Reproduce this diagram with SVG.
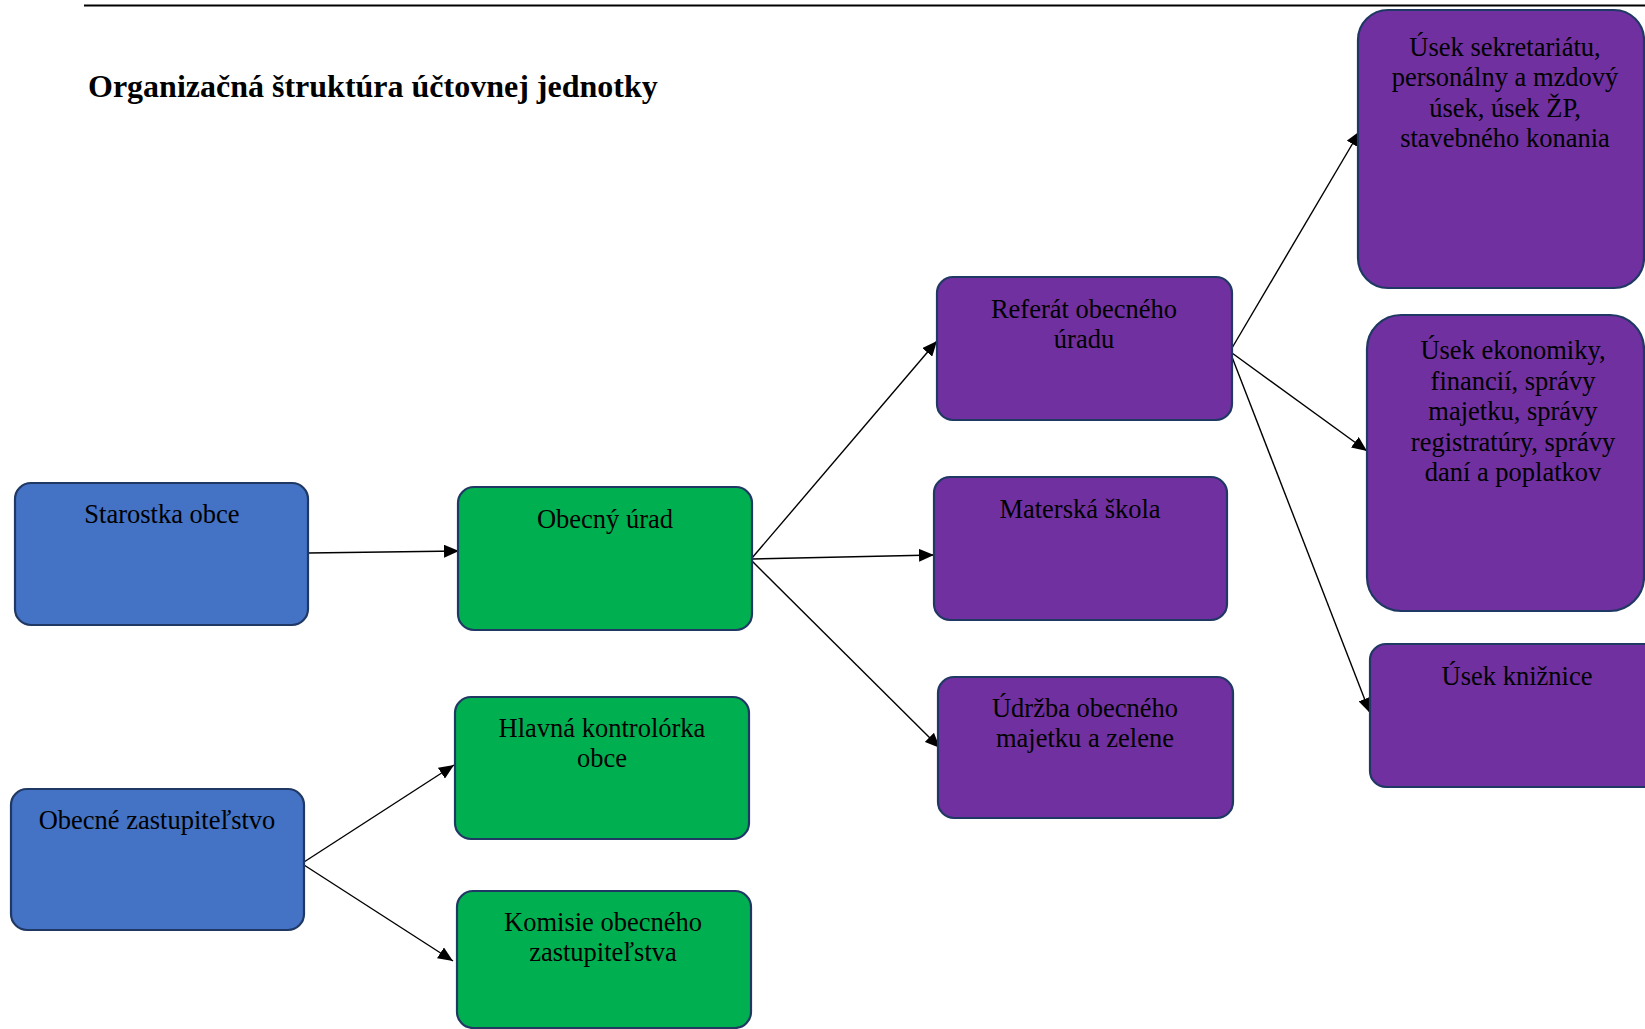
<svg xmlns="http://www.w3.org/2000/svg" width="1645" height="1029" viewBox="0 0 1645 1029">
<style>
.box{stroke:#1F3864;stroke-width:2.2}
.blue{fill:#4472C4}
.green{fill:#00B050}
.purple{fill:#7030A0}
text{font-family:"Liberation Serif","Times New Roman",serif;font-size:26.5px;fill:#000;text-anchor:middle}
.title{font-size:32px;font-weight:bold;text-anchor:start}
.conn line{stroke:#000;stroke-width:1.4;marker-end:url(#arrow)}
</style>
<defs>
<marker id="arrow" viewBox="0 0 15 13" refX="15" refY="6.5" markerWidth="15" markerHeight="13" markerUnits="userSpaceOnUse" orient="auto">
<path d="M0,0 L15,6.5 L0,13 z" fill="#000"/>
</marker>
</defs>
<rect width="1645" height="1029" fill="#fff"/>
<line x1="84" y1="5.5" x2="1645" y2="5.5" stroke="#000" stroke-width="2"/>
<text class="title" x="88" y="97">Organizačná štruktúra účtovnej jednotky</text>

<g class="conn">
<line x1="308" y1="553" x2="459" y2="551"/>
<line x1="752" y1="558" x2="937" y2="341"/>
<line x1="752" y1="559" x2="934" y2="555"/>
<line x1="752" y1="561" x2="940" y2="748"/>
<line x1="1232" y1="348" x2="1360" y2="131"/>
<line x1="1232" y1="353" x2="1367" y2="451"/>
<line x1="1232" y1="357" x2="1370" y2="713"/>
<line x1="304" y1="862" x2="454" y2="765"/>
<line x1="304" y1="865" x2="453" y2="961"/>
</g>

<g id="starostka">
<rect class="box blue" x="15" y="483" width="293" height="142" rx="16"/>
<text x="162" y="523">Starostka obce</text>
</g>
<g id="obecny-urad">
<rect class="box green" x="458" y="487" width="294" height="143" rx="16"/>
<text x="605" y="528">Obecný úrad</text>
</g>
<g id="zastupitelstvo">
<rect class="box blue" x="11" y="789" width="293" height="141" rx="16"/>
<text x="157" y="829">Obecné zastupiteľstvo</text>
</g>
<g id="kontrolorka">
<rect class="box green" x="455" y="697" width="294" height="142" rx="16"/>
<text x="602" y="737">Hlavná kontrolórka</text>
<text x="602" y="767">obce</text>
</g>
<g id="komisie">
<rect class="box green" x="457" y="891" width="294" height="137" rx="16"/>
<text x="603" y="931">Komisie obecného</text>
<text x="603" y="961">zastupiteľstva</text>
</g>
<g id="referat">
<rect class="box purple" x="937" y="277" width="295" height="143" rx="16"/>
<text x="1084" y="318">Referát obecného</text>
<text x="1084" y="348">úradu</text>
</g>
<g id="materska">
<rect class="box purple" x="934" y="477" width="293" height="143" rx="16"/>
<text x="1080" y="518">Materská škola</text>
</g>
<g id="udrzba">
<rect class="box purple" x="938" y="677" width="295" height="141" rx="16"/>
<text x="1085" y="717">Údržba obecného</text>
<text x="1085" y="747">majetku a zelene</text>
</g>
<g id="sekretariat">
<rect class="box purple" x="1358" y="10" width="286" height="278" rx="30"/>
<text x="1505" y="56">Úsek sekretariátu,</text>
<text x="1505" y="86">personálny a mzdový</text>
<text x="1505" y="117">úsek, úsek ŽP,</text>
<text x="1505" y="147">stavebného konania</text>
</g>
<g id="ekonomika">
<rect class="box purple" x="1367" y="315" width="277" height="296" rx="34"/>
<text x="1513" y="359">Úsek ekonomiky,</text>
<text x="1513" y="390">financií, správy</text>
<text x="1513" y="420">majetku, správy</text>
<text x="1513" y="451">registratúry, správy</text>
<text x="1513" y="481">daní a poplatkov</text>
</g>
<g id="kniznica">
<rect class="box purple" x="1370" y="644" width="300" height="143" rx="16"/>
<text x="1517" y="685">Úsek knižnice</text>
</g>
</svg>
